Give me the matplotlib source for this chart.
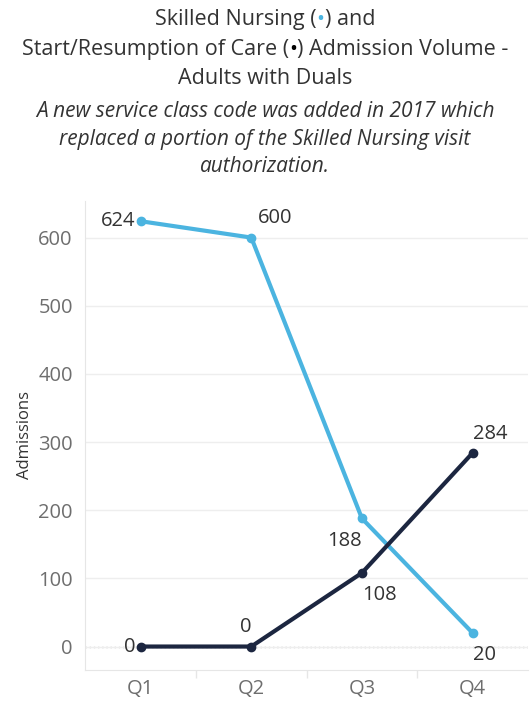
import matplotlib.pyplot as plt
from matplotlib.ticker import MultipleLocator

plt.rcParams['font.family'] = ['Open Sans', 'DejaVu Sans']

quarters = ["Q1", "Q2", "Q3", "Q4"]
skilled_nursing = [624, 600, 188, 20]
start_resumption = [0, 0, 108, 284]

blue = "#4BB4E0"
navy = "#1C2640"
grey_text = "#6e6e6e"
dark_text = "#333333"

fig = plt.figure(figsize=(5.3, 7.02), dpi=100)
ax = fig.add_axes([0.161, 0.046, 0.835, 0.668])

x = list(range(len(quarters)))
ax.plot(x, skilled_nursing, color=blue, lw=3, marker="o", ms=6, zorder=3)
ax.plot(x, start_resumption, color=navy, lw=3, marker="o", ms=6, zorder=4)

# data labels (offset in points, alignment)
sn_offsets = [(-3.5, 0, "right"), (5, 14, "left"), (0, -16, "right"), (0, -16, "left")]
sr_offsets = [(-3.5, 0, "right"), (-4.3, 14, "center"), (0, -16, "left"), (0, 14, "left")]
for vals, offs in [(skilled_nursing, sn_offsets), (start_resumption, sr_offsets)]:
    for i, v in enumerate(vals):
        dx, dy, ha = offs[i]
        ax.annotate(str(v), (x[i], v), xytext=(dx, dy), textcoords="offset points",
                    ha=ha, va="center", fontsize=14.5, color=dark_text, zorder=5)

ax.set_xlim(-0.5, 3.5)
ax.set_ylim(-34, 654)
ax.yaxis.set_major_locator(MultipleLocator(100))
ax.set_xticks(x)
ax.set_xticklabels(quarters)
ax.set_xticks([0.5, 1.5, 2.5], minor=True)
ax.tick_params(axis="x", which="major", length=0, pad=7, labelsize=14.5, labelcolor=grey_text)
ax.tick_params(axis="x", which="minor", length=6, color="#e6e6e6", width=1)
ax.tick_params(axis="y", length=0, pad=9, labelsize=14.5, labelcolor=grey_text)

ax.grid(axis="y", color="#eeeeee", lw=1)
ax.axhline(0, color="#aaaaaa", lw=1, ls=(0, (1, 2)), zorder=1)
for s in ["top", "right"]:
    ax.spines[s].set_visible(False)
ax.spines["left"].set_color("#e6e6e6")
ax.spines["bottom"].set_color("#e6e6e6")
ax.set_ylabel("Admissions", fontsize=12, color=dark_text, labelpad=4)

# title lines, bullets coloured like the series
renderer = fig.canvas.get_renderer()


def title_line(y_px, pieces, size=15.5):
    texts = [fig.text(0, 0, s, fontsize=size, color=c, va="center") for s, c in pieces]
    widths = [t.get_window_extent(renderer).width for t in texts]
    left = 265 - sum(widths) / 2
    for t, w in zip(texts, widths):
        t.set_position((left / 530, 1 - y_px / 702))
        left += w


title_line(20, [("Skilled Nursing (", dark_text), ("\u2022", blue), (") and", dark_text)])
title_line(49, [("Start/Resumption of Care (", dark_text), ("\u2022", "black"),
                (") Admission Volume -", dark_text)])
title_line(79, [("Adults with Duals", dark_text)])

sub = ("A new service class code was added in 2017 which\n"
       "replaced a portion of the Skilled Nursing visit\n"
       "authorization.")
fig.text(0.5, 1 - 139 / 702, sub, ha="center", va="center", fontsize=15,
         style="italic", color=dark_text, linespacing=1.38)

fig.savefig("out.png", dpi=100)
